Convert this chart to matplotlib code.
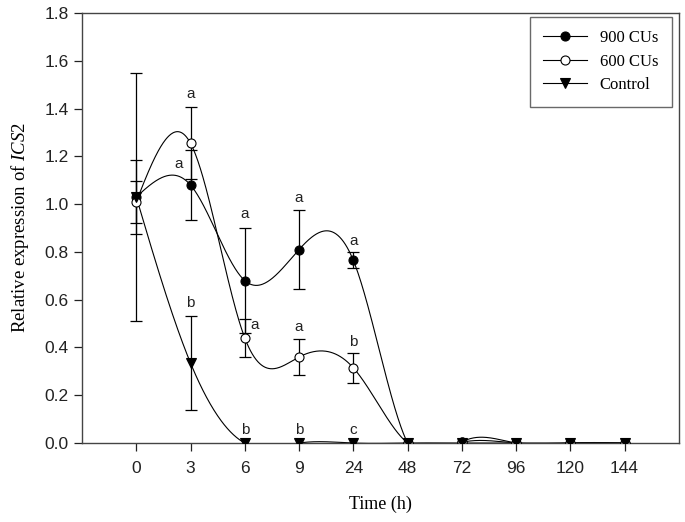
import numpy as np
import matplotlib
matplotlib.use("Agg")
import matplotlib.pyplot as plt

plt.rcParams["mathtext.fontset"] = "custom"
plt.rcParams["mathtext.it"] = "Liberation Serif:italic"
plt.rcParams["mathtext.rm"] = "Liberation Serif"

time_labels = ["0", "3", "6", "9", "24", "48", "72", "96", "120", "144"]
cu900 = [1.03, 1.08, 0.68, 0.81, 0.765, 0.0, 0.004, 0.0, 0.0, 0.0]
cu900_err = [0.155, 0.145, 0.22, 0.165, 0.034, 0.0, 0.0, 0.0, 0.0, 0.0]
cu600 = [1.01, 1.255, 0.44, 0.36, 0.315, 0.0, 0.003, 0.0, 0.0, 0.0]
cu600_err = [0.088, 0.15, 0.078, 0.076, 0.062, 0.0, 0.0, 0.0, 0.0, 0.0]
control = [1.03, 0.335, 0.0, 0.0, 0.0, 0.0, 0.0, 0.0, 0.0, 0.0]
control_err = [0.52, 0.195, 0.0, 0.0, 0.0, 0.0, 0.0, 0.0, 0.0, 0.0]

# significance letters: (index, y, text)
letters = [
    (1, 1.43, "a"), (0.78, 1.14, "a"), (1, 0.555, "b"),
    (2, 0.93, "a"), (2.18, 0.465, "a"), (2, 0.025, "b"),
    (3, 0.995, "a"), (3, 0.455, "a"), (3, 0.025, "b"),
    (4, 0.815, "a"), (4, 0.395, "b"), (4, 0.025, "c"),
]


def natural_spline(x, y, xs):
    x = np.asarray(x, float)
    y = np.asarray(y, float)
    n = len(x)
    h = np.diff(x)
    A = np.zeros((n, n))
    b = np.zeros(n)
    A[0, 0] = 1
    A[-1, -1] = 1
    for i in range(1, n - 1):
        A[i, i - 1] = h[i - 1]
        A[i, i] = 2 * (h[i - 1] + h[i])
        A[i, i + 1] = h[i]
        b[i] = 3 * ((y[i + 1] - y[i]) / h[i] - (y[i] - y[i - 1]) / h[i - 1])
    c = np.linalg.solve(A, b)
    bb = (np.diff(y) / h) - h * (2 * c[:-1] + c[1:]) / 3
    d = np.diff(c) / (3 * h)
    idx = np.clip(np.searchsorted(x, xs) - 1, 0, n - 2)
    dx = xs - x[idx]
    return y[idx] + bb[idx] * dx + c[idx] * dx ** 2 + d[idx] * dx ** 3


fig = plt.figure(figsize=(6.85, 5.22), dpi=100)
ax = fig.add_axes([0.1197, 0.1513, 0.8713, 0.8237])

xpos = np.arange(len(time_labels))
xs = np.linspace(0, len(time_labels) - 1, 800)

series = [
    (cu900, cu900_err, "o", "black", "900 CUs", 6.5),
    (cu600, cu600_err, "o", "white", "600 CUs", 6.5),
    (control, control_err, "v", "black", "Control", 7.5),
]

for vals, err, mk, fc, lab, ms in series:
    ax.plot(xs, natural_spline(xpos, vals, xs), color="black", lw=0.8, zorder=2)
    e = np.array(err)
    m = e > 0
    ax.errorbar(xpos[m], np.array(vals)[m], yerr=e[m], fmt="none", ecolor="black",
                elinewidth=0.9, capsize=4.3, capthick=0.9, zorder=3)
    ax.plot(xpos, vals, linestyle="none", marker=mk, markersize=ms,
            markerfacecolor=fc, markeredgecolor="black", markeredgewidth=0.8, zorder=4)
    ax.plot([], [], color="black", lw=0.8, marker=mk, markersize=ms,
            markerfacecolor=fc, markeredgecolor="black", markeredgewidth=0.8, label=lab)

for xi, yi, t in letters:
    ax.text(xi, yi, t, ha="center", va="bottom", fontsize=11,
            family="Liberation Sans", color="#222222")

ax.set_xlim(-1, 10)
ax.set_ylim(0, 1.8)
ax.set_xticks(xpos)
ax.set_xticklabels(time_labels)
ax.set_yticks(np.arange(0, 1.81, 0.2))
ax.set_yticklabels([f"{v:.1f}" for v in np.arange(0, 1.81, 0.2)])
ax.tick_params(direction="out", length=6, width=0.9, labelsize=12.5, colors="#222222")
ax.tick_params(axis="x", pad=7)
for lbl in ax.get_xticklabels() + ax.get_yticklabels():
    lbl.set_family("Liberation Sans")
for sp in ax.spines.values():
    sp.set_color("#444444")
    sp.set_linewidth(1.0)

ax.set_xlabel("Time (h)", family="Liberation Serif", fontsize=13, labelpad=14)
ax.set_ylabel("Relative expression of $\\mathit{ICS2}$", family="Liberation Serif",
              fontsize=13.5, labelpad=10)

leg = ax.legend(loc="upper right", prop={"family": "Liberation Serif", "size": 12},
                frameon=True, fancybox=False, edgecolor="#444444", handlelength=2.6,
                borderpad=0.8, labelspacing=0.45, borderaxespad=0,
                bbox_to_anchor=(0.988, 0.991))
leg.get_frame().set_linewidth(1.0)

fig.savefig("out.png", dpi=100)
